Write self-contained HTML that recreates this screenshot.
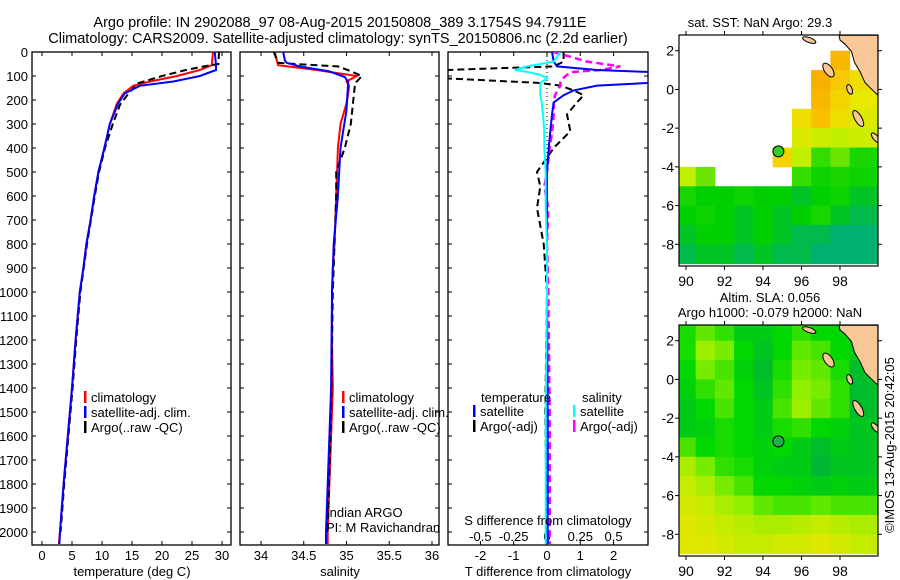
<!DOCTYPE html>
<html><head><meta charset="utf-8">
<style>
html,body{margin:0;padding:0;background:#fff;}
svg{display:block;font-family:"Liberation Sans",sans-serif;}
text{fill:#000;}
</style></head>
<body>
<svg id="chart" width="900" height="580" viewBox="0 0 900 580" xmlns="http://www.w3.org/2000/svg">
<text x="340" y="27" font-size="14.5" text-anchor="middle">Argo profile: IN 2902088_97 08-Aug-2015 20150808_389 3.1754S 94.7911E</text>
<text x="338" y="43" font-size="14.5" text-anchor="middle">Climatology: CARS2009. Satellite-adjusted climatology: synTS_20150806.nc (2.2d earlier)</text>
<g id="g1"></g>
<g id="g2"></g>
<g id="g3"></g>
<g id="m1"></g>
<g id="m2"></g>
<text transform="translate(894,445) rotate(-90)" font-size="13" text-anchor="middle">©IMOS 13-Aug-2015 20:42:05</text>
</svg>
<script>
// ---------- data ----------
const depthTicks = [0,100,200,300,400,500,600,700,800,900,1000,1100,1200,1300,1400,1500,1600,1700,1800,1900,2000];
const tempTicks = [0,5,10,15,20,25,30];
const salTicks = [34,34.5,35,35.5,36];
const tdiffTicks = [-2,-1,0,1,2];
const sdiffTicks = [-0.5,-0.25,0,0.25,0.5];
const sdiffLabels = ["-0.5","-0.25","0","0.25","0.5"];

const climDepth = [0,55,75,100,123,141,172,214,300,400,500,600,700,800,900,1000,1200,1400,1600,1800,2000,2050];
const climTemp  = [28.5,28.3,26.3,22.5,18,15.2,13.6,12.5,11.3,10.4,9.4,8.7,8.1,7.4,6.9,6.3,5.6,5.0,4.3,3.6,3.0,2.8];
const satTemp   = [28.8,29.0,29.0,26.3,21.9,16.3,13.8,12.7,11.3,10.4,9.4,8.7,8.1,7.4,6.9,6.3,5.6,5.0,4.3,3.6,3.0,2.9];
const argoDepth = [0,50,60,75,100,130,170,220,300,400,500,600,800,1000,1200,1400,1600,1800,2000];
const argoTemp  = [29.5,29.4,27,24,20,16,14.5,13,11.8,10.5,9.5,8.8,7.5,6.4,5.7,5.1,4.4,3.7,3.1];

const climSal = [34.16,34.2,34.65,35.12,35.0,35.03,35.02,35.0,34.93,34.9,34.89,34.88,34.87,34.86,34.84,34.83,34.83,34.84,34.82,34.8,34.78,34.78];
const salDepth = [0,35,45,60,81,104,125,242,400,600,800,1000,1400,1800,2000,2050];
const satSal   = [34.26,34.28,34.3,34.45,34.8,34.98,35.02,35.0,34.93,34.9,34.85,34.83,34.82,34.78,34.76,34.76];
const argoSalDepth = [0,45,52,60,80,100,130,200,300,400,500,600,1000,1500,2000];
const argoSal = [34.15,34.2,34.5,34.9,35.05,35.18,35.1,35.08,35.05,34.98,34.88,34.88,34.84,34.82,34.78];

const dDepth = [0,40,60,75,83,95,110,129,140,160,180,210,260,330,400,500,560,650,800,1000,1500,2050];
const dSatT  = [0.15,0.2,0.3,1.5,3,5,5,3,1.5,0.8,0.5,0.2,0.15,0.1,0.05,0.0,0.0,0.0,0.0,0.0,0.02,0.02];
const dArgoT = [0.5,0.5,0.2,-3,-3.2,-3,-3,-0.2,0.4,0.8,1.1,0.9,0.6,0.7,0.2,-0.3,-0.2,-0.3,-0.1,0.0,-0.05,0.0];
const dSatS  = [0.1,0.05,-0.15,-0.24,-0.15,-0.05,0.0,-0.05,-0.05,-0.05,-0.05,-0.04,-0.03,-0.02,-0.02,-0.01,-0.01,-0.01,0.0,0.0,-0.01,-0.01];
const dArgoS = [0.05,0.3,0.55,0.4,0.2,0.15,0.12,0.1,0.1,0.08,0.06,0.05,0.05,0.04,0.02,0.0,-0.02,0.01,0.0,0.01,0.02,0.02];

const lonTicks = [90,92,94,96,98];
const latTicks = [2,0,-2,-4,-6,-8];
const gridLat = [3,2,1,0,-1,-2,-3,-4,-5,-6,-7,-8];   // top edge of 1-degree cells
const gridLon = [89.6,90.5,91.5,92.5,93.5,94.5,95.5,96.5,97.5,98.5]; // left edge
// SST values (NaN = no data)
const N = NaN;
const sstGrid = [
 [N,N,N,N,N,N,N,N,N,N],
 [N,N,N,N,N,N,N,N,29.8,N],
 [N,N,N,N,N,N,N,29.9,29.6,29.4],
 [N,N,N,N,N,N,N,29.8,29.5,29.3],
 [N,N,N,N,N,N,29.4,29.7,29.4,29.2],
 [N,N,N,N,N,N,29.2,29.1,29.0,29.1],
 [N,N,N,N,N,29.5,29.0,28.6,28.8,28.4],
 [29.0,28.8,N,N,N,N,28.6,28.3,28.4,28.3],
 [28.4,28.2,28.2,28.3,28.2,28.2,28.1,28.2,28.3,28.1],
 [28.2,28.3,28.2,28.1,28.2,28.1,28.2,28.4,28.1,28.0],
 [28.1,28.2,28.2,28.1,28.2,28.1,28.0,28.0,27.9,27.9],
 [28.0,28.1,28.1,28.0,28.1,28.0,28.0,27.9,27.9,27.9]
];
// SLA values (0 = low/dark green .. 1 = high/yellow)
const slaGrid = [
 [0.35,0.5,0.4,0.2,0.2,0.3,0.4,0.3,0.3,0.2],
 [0.35,0.65,0.55,0.3,0.15,0.3,0.5,0.45,0.3,0.2],
 [0.3,0.55,0.45,0.25,0.1,0.35,0.55,0.5,0.35,0.1],
 [0.25,0.4,0.5,0.3,0.15,0.4,0.6,0.55,0.4,0.1],
 [0.2,0.3,0.45,0.3,0.2,0.45,0.65,0.5,0.4,0.1],
 [0.2,0.25,0.35,0.3,0.2,0.35,0.4,0.3,0.25,0.15],
 [0.45,0.3,0.35,0.3,0.25,0.3,0.2,0.1,0.2,0.15],
 [0.7,0.55,0.4,0.35,0.25,0.2,0.2,0.05,0.15,0.15],
 [0.8,0.7,0.55,0.45,0.3,0.3,0.25,0.2,0.25,0.2],
 [0.85,0.8,0.7,0.6,0.5,0.45,0.45,0.5,0.45,0.45],
 [0.9,0.85,0.8,0.75,0.7,0.7,0.75,0.8,0.75,0.7],
 [0.9,0.9,0.85,0.8,0.8,0.85,0.85,0.9,0.85,0.8]
];
const argoLon = [94.8], argoLat = [-3.2];
const coastLon = [97.95,98.0,98.25,98.6,98.75,99.05,99.3,99.6,99.97,99.97];
const coastLat = [2.8,2.55,2.35,1.95,1.4,0.9,0.35,0.05,-0.3,2.8];

// ---------- helpers ----------
const NS="http://www.w3.org/2000/svg";
function mk(parent,tag,attrs){const e=document.createElementNS(NS,tag);for(const k in attrs)e.setAttribute(k,attrs[k]);parent.appendChild(e);return e;}
const PT=52, PB=545, yD=d=>PT+d*0.24;

function panel(g,x0,x1,name,showY){
  const r=mk(g,'rect',{x:x0,y:PT,width:x1-x0,height:PB-PT,fill:'#fff',stroke:'#000','stroke-width':1.3});
  
  
  depthTicks.forEach(d=>{
    const y=yD(d);
    mk(g,'line',{x1:x0,x2:x0+4,y1:y,y2:y,stroke:'#000'});
    mk(g,'line',{x1:x1-4,x2:x1,y1:y,y2:y,stroke:'#000'});
    if(showY){const t=mk(g,'text',{x:x0-4,y:y+5,'font-size':13,'text-anchor':'end'});t.textContent=d;
      
      }
  });
}
function xTicks(g,vals,labels,sx,y,name){
  vals.forEach((v,i)=>{const x=sx(v);
    mk(g,'line',{x1:x,x2:x,y1:PB,y2:PB-4,stroke:'#000'});
    mk(g,'line',{x1:x,x2:x,y1:PT,y2:PT+4,stroke:'#000'});
    const t=mk(g,'text',{x:x,y:y,'font-size':13,'text-anchor':'middle'});t.textContent=labels?labels[i]:v;
    
    });
}
function line(g,xs,ds,sx,color,w,dash,name,clip){
  const pts=xs.map((v,i)=>sx(v).toFixed(1)+','+yD(ds[i]).toFixed(1)).join(' ');
  const p=mk(g,'polyline',{points:pts,fill:'none',stroke:color,'stroke-width':w});
  if(dash)p.setAttribute('stroke-dasharray',dash);
  if(clip)p.setAttribute('clip-path','url(#'+clip+')');
  
  
}
function legend(g,x,y,color,label,name){
  mk(g,'rect',{x:x,y:y-11,width:2.5,height:12,fill:color});
  const t=mk(g,'text',{x:x+7,y:y,'font-size':13});t.textContent=label;
  
  
}
function text(g,x,y,s,anchor,name,fs){const t=mk(g,'text',{x:x,y:y,'font-size':fs||13,'text-anchor':anchor||'start'});t.textContent=s;
  
  return t;}

const svg=document.getElementById('chart');
const defs=mk(svg,'defs',{});
const cp=mk(defs,'clipPath',{id:'c3'});mk(cp,'rect',{x:448,y:PT,width:200,height:PB-PT});

// Panel 1 temperature
const g1=document.getElementById('g1');
const sT=v=>42+v*6;
panel(g1,32,231,'temperature',true);
xTicks(g1,tempTicks,null,sT,560,'temperature-tick-label');
line(g1,climTemp,climDepth,sT,'#f00',2,null,'climatology-temp-line');
line(g1,argoTemp,argoDepth,sT,'#000',2,'7,4','argo-temp-line');
line(g1,satTemp,climDepth,sT,'#00f',2,null,'satellite-temp-line');
text(g1,132,576,'temperature (deg C)','middle','temperature-axis-title');
legend(g1,84,402,'#f00','climatology','legend-climatology');
legend(g1,84,417,'#00f','satellite-adj. clim.','legend-satellite');
legend(g1,84,432,'#000','Argo(..raw -QC)','legend-argo');

// Panel 2 salinity
const g2=document.getElementById('g2');
const sS=v=>261+(v-34)*85.5;
panel(g2,240,439,'salinity',false);
xTicks(g2,salTicks,null,sS,560,'salinity-tick-label');
line(g2,climSal,climDepth,sS,'#f00',2,null,'climatology-sal-line');
line(g2,argoSal,argoSalDepth,sS,'#000',2,'7,4','argo-sal-line');
line(g2,satSal,salDepth,sS,'#00f',2,null,'satellite-sal-line');
text(g2,340,576,'salinity','middle','salinity-axis-title');
legend(g2,342,402,'#f00','climatology','legend-climatology-2');
legend(g2,342,417,'#00f','satellite-adj. clim.','legend-satellite-2');
legend(g2,342,432,'#000','Argo(..raw -QC)','legend-argo-2');
text(g2,326,517,'Indian ARGO','start','pi-institution');
text(g2,326,532,'PI: M Ravichandran','start','pi-name');

// Panel 3 differences
const g3=document.getElementById('g3');
const sDT=v=>547+v*33.3, sDS=v=>547+v*133.2;
panel(g3,448,648,'difference',false);
xTicks(g3,tdiffTicks,null,sDT,560,'tdiff-tick-label');
sdiffTicks.forEach((v,i)=>{const t=text(g3,sDS(v),541,sdiffLabels[i],'middle','sdiff-tick-label');});
mk(g3,'line',{x1:547,x2:547,y1:PT,y2:PB,stroke:'#000','stroke-dasharray':'1,3'});
line(g3,dArgoT,dDepth,sDT,'#000',2,'7,4','argo-tdiff-line','c3');
line(g3,dArgoS,dDepth,sDS,'#f0f',2.5,'7,4','argo-sdiff-line','c3');
line(g3,dSatT,dDepth,sDT,'#00f',2,null,'satellite-tdiff-line','c3');
line(g3,dSatS,dDepth,sDS,'#0ff',2,null,'satellite-sdiff-line','c3');
text(g3,548,576,'T difference from climatology','middle','tdiff-axis-title');
text(g3,548,525,'S difference from climatology','middle','sdiff-axis-title');
text(g3,481,402,'temperature','start','legend-temperature-heading');
text(g3,582,402,'salinity','start','legend-salinity-heading');
legend(g3,473,416,'#00f','satellite','legend-sat-t');
legend(g3,473,431,'#000','Argo(-adj)','legend-argo-t');
legend(g3,573,416,'#0ff','satellite','legend-sat-s');
legend(g3,573,431,'#f0f','Argo(-adj)','legend-argo-s');

// ---------- maps ----------
function sstColor(v){
  const stops=[[27.9,[0,176,112]],[28.2,[0,208,0]],[28.7,[64,224,0]],[29.0,[192,240,0]],[29.3,[232,232,0]],[29.6,[248,200,0]],[29.9,[248,176,0]]];
  if(v<=stops[0][0])return 'rgb('+stops[0][1]+')';
  for(let i=1;i<stops.length;i++){if(v<=stops[i][0]){const a=stops[i-1],b=stops[i],f=(v-a[0])/(b[0]-a[0]);
    return 'rgb('+a[1].map((c,k)=>Math.round(c+(b[1][k]-c)*f)).join(',')+')';}}
  return 'rgb('+stops[stops.length-1][1]+')';
}
function slaColor(v){
  const stops=[[0,[0,176,64]],[0.3,[0,216,0]],[0.6,[144,240,0]],[0.9,[224,232,0]]];
  for(let i=1;i<stops.length;i++){if(v<=stops[i][0]){const a=stops[i-1],b=stops[i],f=(v-a[0])/(b[0]-a[0]);
    return 'rgb('+a[1].map((c,k)=>Math.round(c+(b[1][k]-c)*f)).join(',')+')';}}
  return 'rgb('+stops[stops.length-1][1]+')';
}
function drawMap(gid,top,grid,colorFn,name,dotColor){
  const g=document.getElementById(gid);
  const L=679,R=878,T=top,B=top+231;
  const sx=lon=>686+(lon-90)*19.25, sy=lat=>T+15.7+(2-lat)*19.36;
  const cid='clip'+gid;
  const c=mk(defs,'clipPath',{id:cid});mk(c,'rect',{x:L,y:T,width:R-L,height:B-T});
  const cells=mk(g,'g',{'clip-path':'url(#'+cid+')'});
  
  
  grid.forEach((row,i)=>row.forEach((v,j)=>{
    if(isNaN(v))return;
    const x0=sx(gridLon[j]), x1=(j+1<gridLon.length)?sx(gridLon[j+1]):R, y0=sy(gridLat[i]), y1=sy(gridLat[i]-1);
    const r=mk(cells,'rect',{x:x0,y:y0,width:x1-x0+0.5,height:y1-y0+0.5,fill:colorFn(v)});
    
    
  }));
  const land=mk(cells,'polygon',{points:coastLon.map((lo,i)=>sx(lo)+','+sy(coastLat[i])).join(' '),fill:'#f9c896',stroke:'#000','stroke-width':1});
  
  
  [[96.4,2.55,7,2.5,20],[97.4,1.0,4,8,-35],[98.5,0.0,2.5,5,-20],[98.95,-1.5,3.5,9,-30],[99.85,-2.5,2.5,6,-40]].forEach(p=>{
    const e=mk(cells,'ellipse',{cx:sx(p[0]),cy:sy(p[1]),rx:p[2],ry:p[3],fill:'#f9c896',stroke:'#000','stroke-width':1,transform:'rotate('+p[4]+' '+sx(p[0])+' '+sy(p[1])+')'});
    
    
  });
  const fr=mk(g,'rect',{x:L,y:T,width:R-L,height:B-T,fill:'none',stroke:'#000','stroke-width':1.2});
  
  
  lonTicks.forEach(lo=>{const x=sx(lo);mk(g,'line',{x1:x,x2:x,y1:T,y2:T-4,stroke:'#000'});mk(g,'line',{x1:x,x2:x,y1:B,y2:B+4,stroke:'#000'});
    text(g,x,B+20,String(lo),'middle',name+'-lon-label',14);});
  latTicks.forEach(la=>{const y=sy(la);mk(g,'line',{x1:L,x2:L-4,y1:y,y2:y,stroke:'#000'});mk(g,'line',{x1:R,x2:R+4,y1:y,y2:y,stroke:'#000'});
    text(g,674,y+5,String(la),'end',name+'-lat-label',14);});
  const d=mk(g,'circle',{cx:sx(argoLon[0]),cy:sy(argoLat[0]),r:5.5,fill:dotColor,stroke:'#000','stroke-width':1});
  
  
  return g;
}
const mg1=drawMap('m1',35,sstGrid,sstColor,'sst-map','#30d020');
text(mg1,760,27,'sat. SST: NaN Argo: 29.3','middle','sst-map-title');
const mg2=drawMap('m2',325,slaGrid,slaColor,'sla-map','#20b050');
text(mg2,770,302,'Altim. SLA: 0.056','middle','sla-map-title');
text(mg2,770,317,'Argo h1000: -0.079 h2000: NaN','middle','sla-map-subtitle');
</script>
</body></html>
